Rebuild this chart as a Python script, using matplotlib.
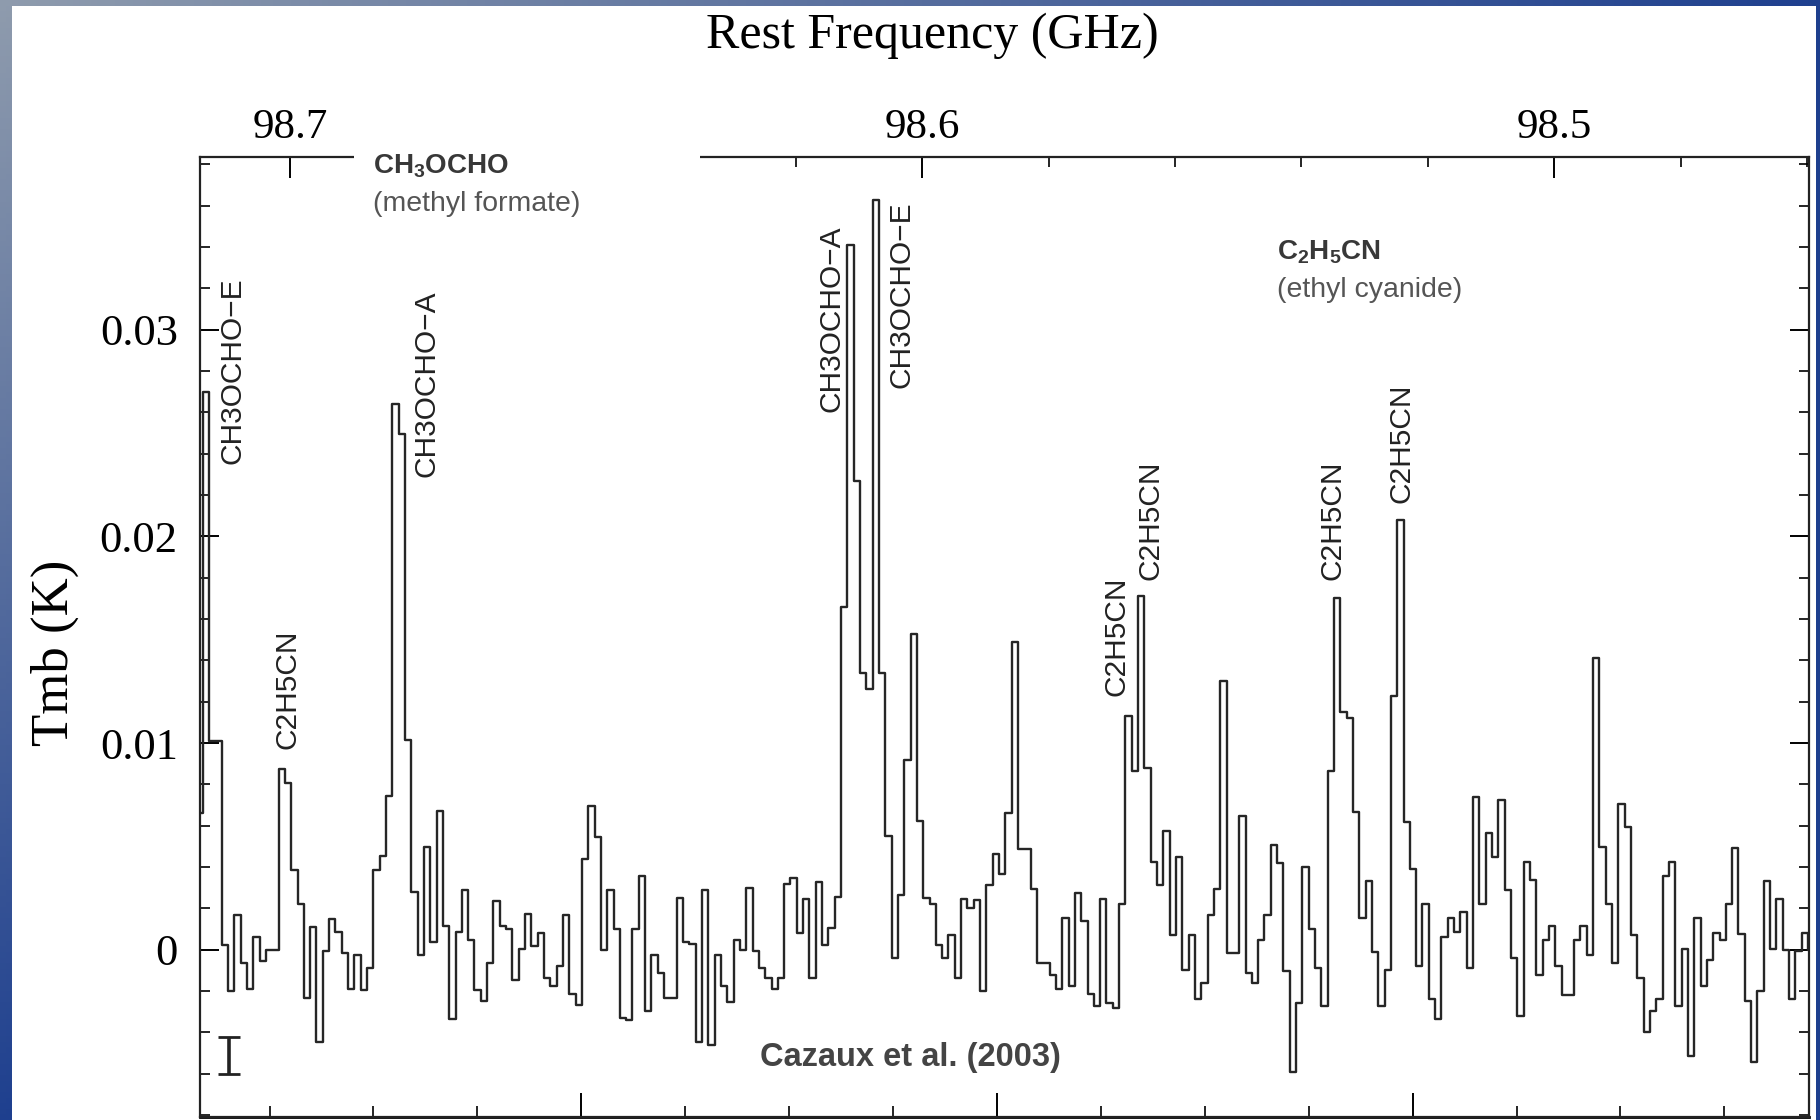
import numpy as np
import matplotlib
matplotlib.use("Agg")
import matplotlib.pyplot as plt
from matplotlib.patches import Rectangle
from matplotlib.ticker import MultipleLocator, NullFormatter

plt.rcParams['mathtext.fontset'] = 'custom'
plt.rcParams['mathtext.rm'] = 'Liberation Sans:bold'
plt.rcParams['mathtext.default'] = 'rm'

# Tmb spectrum in mK, 1 MHz channels, first channel edge at f_start, going down in frequency
tmb_mK = [
    6.6, 27.0, 10.1, 10.1, 0.24, -2.0, 1.68, -0.64, -1.92, 0.64,
    -0.56, 0.0, 0.0, 8.77, 8.08, 3.87, 2.24, -2.32, 1.12, -4.48,
    -0.08, 1.47, 0.88, -0.16, -1.92, -0.24, -1.95, -0.88, 3.87, 4.56,
    7.44, 26.4, 24.95, 10.16, 2.8, -0.24, 4.96, 0.4, 6.7, 1.15,
    -3.36, 0.88, 2.9, 0.48, -1.95, -2.5, -0.64, 2.37, 1.15, 1.0,
    -1.47, 0.03, 1.73, 0.19, 0.83, -1.36, -1.76, -0.8, 1.68, -2.13,
    -2.69, 4.4, 6.96, 5.47, 0.0, 2.88, 1.0, -3.28, -3.4, 1.0,
    3.55, -2.96, -0.24, -1.12, -2.32, -2.32, 2.53, 0.4, 0.3, -4.48,
    2.91, -4.6, -0.24, -1.76, -2.53, 0.48, 0.0, 3.0, -0.08, -0.9,
    -1.36, -1.9, -1.36, 3.2, 3.47, 0.8, 2.48, -1.36, 3.28, 0.24,
    1.04, 2.56, 16.6, 34.1, 22.7, 13.4, 12.6, 36.3, 13.4, 5.5,
    -0.4, 2.64, 9.2, 15.3, 6.24, 2.53, 2.24, 0.24, -0.4, 0.72,
    -1.36, 2.48, 2.0, 2.4, -2.0, 3.12, 4.64, 3.68, 6.64, 14.9,
    4.88, 4.88, 2.96, -0.64, -0.64, -1.2, -1.89, 1.52, -1.76, 2.75,
    1.41, -2.16, -2.72, 2.48, -2.56, -2.8, 2.24, 11.3, 8.64, 17.1,
    8.8, 4.24, 3.12, 5.76, 0.72, 4.51, -0.96, 0.72, -2.4, -1.6,
    1.68, 2.96, 13.0, -0.16, -0.16, 6.48, -1.12, -1.6, 0.48, 1.68,
    5.09, 4.19, -1.04, -5.92, -2.56, 4.0, 1.0, -0.88, -2.72, 8.64,
    17.0, 11.5, 11.2, 6.69, 1.52, 3.33, -0.13, -2.72, -0.96, 12.3,
    20.8, 6.16, 3.92, -0.8, 2.24, -2.4, -3.36, 0.64, 1.52, 0.88,
    1.84, -0.88, 7.39, 2.24, 5.63, 4.51, 7.23, 2.91, -0.4, -3.2,
    4.24, 3.36, -1.2, 0.48, 1.15, -0.8, -2.21, -2.21, 0.48, 1.15,
    -0.24, 14.1, 4.96, 2.24, -0.64, 7.07, 5.92, 0.72, -1.36, -4.0,
    -2.96, -2.4, 3.55, 4.24, -2.72, 0.03, -5.12, 1.52, -1.76, -0.48,
    0.83, 0.48, 2.24, 4.93, 0.77, -2.48, -5.44, -2.0, 3.33, 0.03,
    2.48, 0.0, -2.4, -0.08, 0.83, 0.0,
]
f_start = 98.71484   # GHz
chan_width = 0.001   # GHz

freq_ticks = [98.7, 98.6, 98.5]
freq_tick_labels = ['98.7', '98.6', '98.5']
tmb_ticks = [0, 0.01, 0.02, 0.03]
tmb_tick_labels = ['0', '0.01', '0.02', '0.03']

line_names = ['CH3OCHO\u2212E', 'C2H5CN', 'CH3OCHO\u2212A', 'CH3OCHO\u2212A', 'CH3OCHO\u2212E',
              'C2H5CN', 'C2H5CN', 'C2H5CN', 'C2H5CN']
line_freqs = [98.7092, 98.7004, 98.6785, 98.6143, 98.6032, 98.5692, 98.5638, 98.5351, 98.5242]
line_label_mK = [23.5, 9.7, 22.9, 26.0, 27.2, 12.3, 17.9, 17.9, 21.6]

rms_freq = 98.7097
rms_mK = -5.1
rms_err_mK = 0.9

# velocity scale on the bottom axis
c_kms = 299792.458
f_ref = 98.58817


def f2v(f):
    return c_kms * (f_ref - f) / f_ref


def v2f(v):
    return f_ref * (1 - v / c_kms)


serif = 'Liberation Serif'
sans = 'Liberation Sans'

fig = plt.figure(figsize=(18.2, 11.2), dpi=100)

# blue-grey slide background with a white page on it
bg = fig.add_axes([0, 0, 1, 1], zorder=-10)
yy, xx = np.mgrid[0:1:200j, 0:1:300j]
t = np.clip(xx + yy, 0, 1)[..., None]
c0 = np.array([0.56, 0.61, 0.68])
c1 = np.array([0.12, 0.25, 0.56])
bg.imshow(c0 * (1 - t) + c1 * t, aspect='auto', extent=[0, 1, 0, 1], origin='upper')
bg.axis('off')
fig.patches.append(Rectangle((11.6 / 1820, 0), (1816 - 11.6) / 1820, 1 - 6 / 1120,
                             transform=fig.transFigure, facecolor='white',
                             edgecolor='none', zorder=-5))

ax = fig.add_axes([200 / 1820, 3 / 1120, 1609 / 1820, 960 / 1120])

tmb = np.array(tmb_mK) * 1e-3
edges = f_start - chan_width * np.arange(len(tmb) + 1)
ax.step(edges, np.append(tmb, tmb[-1]), where='post', color='#262626', lw=1.7)

ax.errorbar([rms_freq], [rms_mK * 1e-3], yerr=[rms_err_mK * 1e-3], color='#222',
            elinewidth=2.6, capsize=8, capthick=2.0)

for name, f, y in zip(line_names, line_freqs, line_label_mK):
    ax.text(f, y * 1e-3, name, rotation=90, ha='center', va='bottom',
            fontsize=21.5, family=sans, color='#222')

ax.set_xlim(98.71427, 98.45968)
ax.set_ylim(-0.00809, 0.03836)

ax.xaxis.tick_top()
ax.set_xticks(freq_ticks, labels=freq_tick_labels)
ax.xaxis.set_minor_locator(MultipleLocator(0.02))
ax.tick_params(axis='x', which='both', direction='in', top=True, bottom=False,
               labeltop=True, labelbottom=False)
ax.tick_params(axis='x', which='major', length=15, width=1.4, pad=7, labelsize=31)
ax.tick_params(axis='x', which='minor', length=7, width=1.2)

ax.set_yticks(tmb_ticks, labels=tmb_tick_labels)
ax.yaxis.set_minor_locator(MultipleLocator(0.002))
ax.tick_params(axis='y', which='both', direction='in', left=True, right=True)
ax.tick_params(axis='y', which='major', length=14, width=1.4, pad=16, labelsize=32)
ax.tick_params(axis='y', which='minor', length=7, width=1.2)
for lab in ax.get_xticklabels() + ax.get_yticklabels():
    lab.set_family(serif)

sec = ax.secondary_xaxis('bottom', functions=(f2v, v2f))
sec.xaxis.set_major_locator(MultipleLocator(200))
sec.xaxis.set_minor_locator(MultipleLocator(50))
sec.xaxis.set_major_formatter(NullFormatter())
sec.tick_params(axis='x', which='both', direction='in')
sec.tick_params(axis='x', which='major', length=17, width=1.4)
sec.tick_params(axis='x', which='minor', length=8, width=1.2)
sec.spines['bottom'].set_linewidth(2.0)

for s in ax.spines.values():
    s.set_linewidth(1.6)
    s.set_color('#222')

# the molecule key covers part of the top frame
ax.add_patch(Rectangle((0.0957, 0.975), 0.2151, 0.05, transform=ax.transAxes,
                       facecolor='white', edgecolor='none', clip_on=False, zorder=10))

fig.text(0.5121, 0.968, 'Rest Frequency (GHz)', ha='center', va='center',
         fontsize=36, family=serif)
fig.text(0.030, 0.417, 'Tmb (K)', rotation=90, ha='center', va='center',
         fontsize=38, family=serif)

fig.text(0.2047, 0.8518, 'CH$_3$OCHO', ha='left', va='center', fontsize=20,
         family=sans, weight='bold', color='#383838', zorder=11)
fig.text(0.2047, 0.8176, '(methyl formate)', ha='left', va='center', fontsize=20.5,
         family=sans, color='#555555', zorder=11)
fig.text(0.7015, 0.7751, 'C$_2$H$_5$CN', ha='left', va='center', fontsize=20,
         family=sans, weight='bold', color='#383838')
fig.text(0.7015, 0.7409, '(ethyl cyanide)', ha='left', va='center', fontsize=20.5,
         family=sans, color='#555555')
fig.text(0.4177, 0.0559, 'Cazaux et al. (2003)', ha='left', va='center', fontsize=23.5,
         family=sans, weight='bold', color='#444444')

fig.savefig('out.png', dpi=100)
